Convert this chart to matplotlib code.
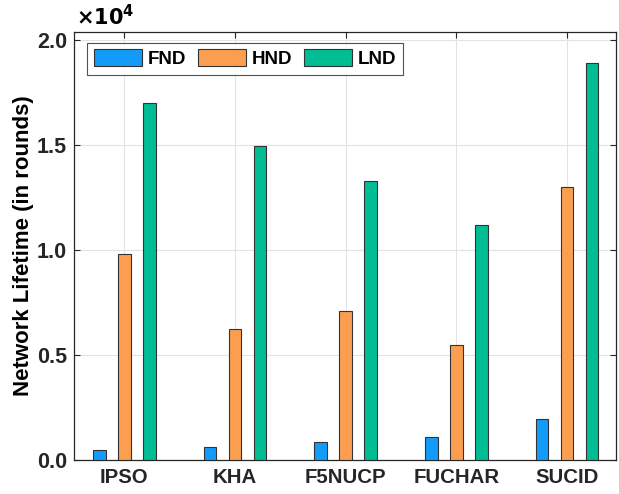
import numpy as np
import matplotlib.pyplot as plt
from matplotlib.ticker import FuncFormatter

plt.rcParams['font.family'] = ['Liberation Sans', 'DejaVu Sans']
plt.rcParams['font.weight'] = 'bold'

methods = ['IPSO', 'KHA', 'F5NUCP', 'FUCHAR', 'SUCID']
fnd = [460, 630, 870, 1100, 1950]
hnd = [9800, 6220, 7080, 5460, 13000]
lnd = [17000, 14950, 13290, 11180, 18950]

series = [('FND', fnd, '#139BF9'), ('HND', hnd, '#FB9E50'), ('LND', lnd, '#00BD94')]

fig = plt.figure(figsize=(6.19, 4.94), dpi=100)
ax = fig.add_axes([0.1195, 0.069, 0.876, 0.866])

x = np.arange(1, len(methods) + 1)
offset = 0.225
width = 0.115
for i, (name, vals, col) in enumerate(series):
    ax.bar(x + (i - 1) * offset, vals, width=width, color=col,
           edgecolor='#333333', linewidth=0.8, label=name, zorder=3)

ax.set_xlim(0.545, 5.445)
ax.set_ylim(0, 20400)
ax.set_xticks(x)
ax.set_xticklabels(methods, fontsize=14.7, fontweight='bold')
ax.set_yticks([0, 5000, 10000, 15000, 20000])
ax.yaxis.set_major_formatter(FuncFormatter(lambda v, p: f'{v / 1e4:.1f}'))
for lab in ax.get_yticklabels():
    lab.set_fontsize(15.5)
    lab.set_fontweight('bold')
ax.set_ylabel('Network Lifetime (in rounds)', fontsize=16, fontweight='bold', labelpad=2)

ax.grid(True, color='#E3E3E3', linewidth=0.8, zorder=0)
ax.tick_params(direction='in', top=True, right=True, length=4, width=0.8,
               colors='#262626', pad=6)
ax.tick_params(axis='y', pad=5)
for s in ax.spines.values():
    s.set_color('#262626')
    s.set_linewidth(0.9)

ax.text(0.004, 1.006, r'$\times\mathbf{10^4}$', transform=ax.transAxes, fontsize=15,
        ha='left', va='bottom')

leg = ax.legend(loc='upper left', ncol=3, fontsize=13.5, frameon=True, fancybox=False,
                edgecolor='#262626', handlelength=2.6, handleheight=1.0,
                columnspacing=0.6, handletextpad=0.3, borderpad=0.35,
                borderaxespad=0, bbox_to_anchor=(0.024, 0.975))
leg.get_frame().set_linewidth(0.8)
for t in leg.get_texts():
    t.set_fontweight('bold')

fig.savefig('out.png', dpi=100)
